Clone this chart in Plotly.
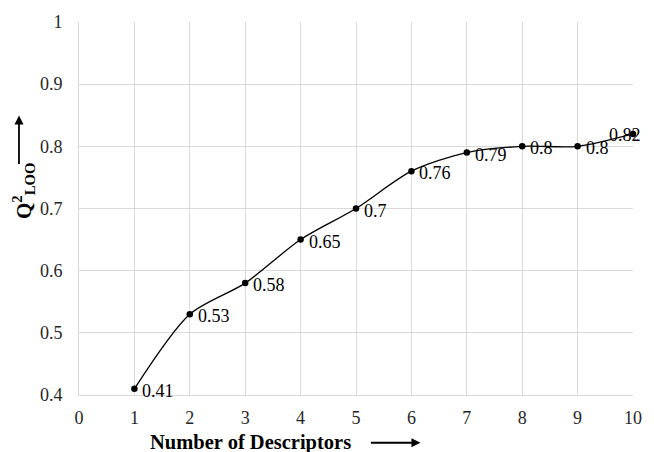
import plotly.graph_objects as go

# Q² (leave-one-out) versus number of descriptors in the model
descriptors = [1, 2, 3, 4, 5, 6, 7, 8, 9, 10]
q2_loo = [0.41, 0.53, 0.58, 0.65, 0.70, 0.76, 0.79, 0.80, 0.80, 0.82]
value_labels = ["0.41", "0.53", "0.58", "0.65", "0.7", "0.76", "0.79", "0.8", "0.8", "0.82"]

x_ticks = list(range(0, 11))
y_ticks = [0.4, 0.5, 0.6, 0.7, 0.8, 0.9, 1.0]
y_tick_text = ["0.4", "0.5", "0.6", "0.7", "0.8", "0.9", "1"]

serif = "Liberation Serif"

W, H = 654, 452
L, R, T, B = 79, 12, 20, 57
pw, ph = W - L - R, H - T - B


def px_x(px):
    return (px - L) / pw


def px_y(py):
    return (H - B - py) / ph


fig = go.Figure()
fig.add_trace(go.Scatter(
    x=descriptors, y=q2_loo,
    mode="lines+markers",
    line=dict(color="black", width=1.3, shape="spline", smoothing=0.8),
    marker=dict(color="black", size=6.5),
    showlegend=False,
    hoverinfo="skip",
    cliponaxis=False,
))

annotations = []
for i, (xv, yv, lab) in enumerate(zip(descriptors, q2_loo, value_labels)):
    last = i == len(descriptors) - 1
    annotations.append(dict(
        x=xv, y=yv, xref="x", yref="y", text=lab, showarrow=False,
        xanchor="right" if last else "left", yanchor="middle",
        xshift=10 if last else 6, yshift=-1 if last else -2,
        font=dict(family=serif, size=18, color="black"),
    ))

# axis titles with direction arrows
annotations.append(dict(
    x=px_x(253), y=px_y(443), xref="paper", yref="paper", showarrow=False,
    xanchor="center", yanchor="middle",
    text="<b>Number of Descriptors</b>",
    font=dict(family=serif, size=20.5, color="black"),
))
annotations.append(dict(
    x=px_x(426), y=px_y(443), xref="paper", yref="paper",
    ax=-51, ay=0, axref="pixel", ayref="pixel",
    showarrow=True, arrowhead=2, arrowsize=1, arrowwidth=1.8, arrowcolor="black", text="",
))
annotations.append(dict(
    x=px_x(22), y=px_y(190), xref="paper", yref="paper", showarrow=False,
    xanchor="center", yanchor="middle",
    text="<b>Q<sup>2</sup><sub>LOO</sub></b>", textangle=-90,
    font=dict(family=serif, size=21, color="black"),
))
annotations.append(dict(
    x=px_x(18), y=px_y(114), xref="paper", yref="paper",
    ax=0, ay=50, axref="pixel", ayref="pixel",
    showarrow=True, arrowhead=2, arrowsize=1, arrowwidth=1.8, arrowcolor="black", text="",
))

grid = "#d9d9d9"
fig.update_layout(
    width=W, height=H,
    margin=dict(l=L, r=R, t=T, b=B),
    paper_bgcolor="white", plot_bgcolor="white",
    annotations=annotations,
    xaxis=dict(
        range=[0, 10], tickvals=x_ticks, ticktext=[str(t) for t in x_ticks],
        showgrid=True, gridcolor=grid, gridwidth=1,
        showline=True, linecolor=grid, linewidth=1,
        zeroline=False, ticks="", ticklabelstandoff=6,
        tickfont=dict(family=serif, size=18, color="#262626"),
    ),
    yaxis=dict(
        range=[0.4, 1.0], tickvals=y_ticks, ticktext=y_tick_text,
        showgrid=True, gridcolor=grid, gridwidth=1,
        showline=True, linecolor=grid, linewidth=1,
        zeroline=False, ticks="", ticklabelstandoff=12,
        tickfont=dict(family=serif, size=18, color="#262626"),
    ),
)

fig.write_html("out.html")
